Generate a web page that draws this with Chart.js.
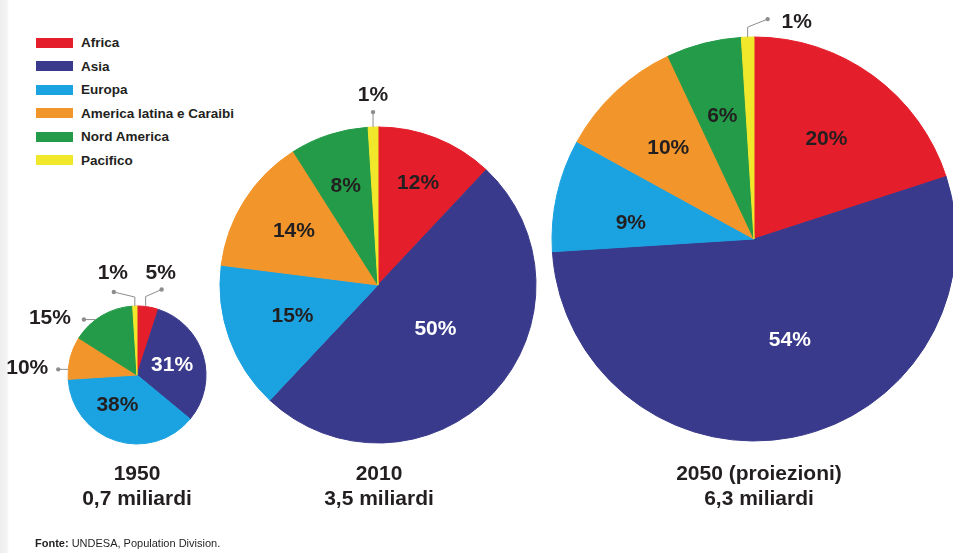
<!DOCTYPE html>
<html lang="it">
<head>
<meta charset="utf-8">
<title>Popolazione urbana per regione</title>
<script src="https://cdn.jsdelivr.net/npm/chart.js@4.4.1/dist/chart.umd.min.js"></script>
<style>
    html, body {
        margin: 0;
        padding: 0;
        width: 953px;
        height: 553px;
        overflow: hidden;
        background: #fff;
    }
    body {
        position: relative;
        font-family: "Liberation Sans", Arial, Helvetica, sans-serif;
        color: #231f20;
    }
    .edge {
        position: absolute;
        left: 0;
        top: 0;
        width: 9px;
        height: 100%;
        background: linear-gradient(to right, #eeeeee 0, #f3f3f3 7px, #fff 9px);
    }
    canvas {
        position: absolute;
        left: 0;
        top: 0;
        pointer-events: none;
    }
    #legend {
        position: absolute;
        left: 36px;
        top: 31px;
        margin: 0;
        padding: 0;
        list-style: none;
    }
    #legend li {
        height: 23.5px;
        display: flex;
        align-items: center;
        font-size: 13.5px;
        font-weight: bold;
    }
    #legend .swatch {
        display: inline-block;
        width: 37px;
        height: 10px;
        margin-right: 8px;
    }
    .caption {
        position: absolute;
        top: 460px;
        width: 240px;
        text-align: center;
        font-size: 21px;
        line-height: 25px;
        font-weight: bold;
    }
    .source {
        position: absolute;
        left: 35px;
        top: 537px;
        font-size: 11px;
    }
</style>
</head>
<body>
<div class="edge"></div>
<ul id="legend"></ul>
<canvas id="pie1950" width="953" height="553"></canvas>
<canvas id="pie2010" width="953" height="553"></canvas>
<canvas id="pie2050" width="953" height="553"></canvas>
<div class="source"><b>Fonte:</b> UNDESA, Population Division.</div>

<script>
// Regioni e quote (%) per anno
const regions = ['Africa', 'Asia', 'Europa', 'America latina e Caraibi', 'Nord America', 'Pacifico'];
const share1950 = [5, 31, 38, 10, 15, 1];
const share2010 = [12, 50, 15, 14, 8, 1];
const share2050 = [20, 54, 9, 10, 6, 1];
const years = ['1950', '2010', '2050 (proiezioni)'];
const totals = ['0,7 miliardi', '3,5 miliardi', '6,3 miliardi'];

const regionColors = ['#e41e2b', '#393a8b', '#1ba3e1', '#f2952b', '#239b48', '#f1e72b'];
const labelInk = ['#231f20', '#ffffff', '#231f20', '#231f20', '#231f20', '#231f20'];
const leaderColor = '#8d8d8d';

// Posizione delle etichette: r = frazione del raggio, at = punto lungo la fetta,
// leader = spezzata (offset dal bordo) per le etichette esterne
const pies = [
    {
        id: 'pie1950', values: share1950, cx: 137, cy: 375, r: 69, captionX: 137,
        places: {
            0: { at: 0.4, leader: [[0, -10], [16, -17]], text: [15, -33] },
            1: { r: 0.53 },
            2: { r: 0.52, at: 0.61 },
            3: { at: 0.23, leader: [[-10, 0]], text: [-41, -1] },
            4: { at: 0.39, leader: [[-12, 0]], text: [-46, -1] },
            5: { leader: [[0, -9], [-21, -14]], text: [-22, -33] }
        }
    },
    {
        id: 'pie2010', values: share2010, cx: 378, cy: 285, r: 158, captionX: 379,
        places: {
            0: { r: 0.69 },
            1: { r: 0.46, at: 0.47 },
            2: { r: 0.575 },
            3: { r: 0.63 },
            4: { r: 0.66 },
            5: { leader: [[0, -15]], text: [0, -32] }
        }
    },
    {
        id: 'pie2050', values: share2050, cx: 754, cy: 239, r: 202, captionX: 759,
        places: {
            0: { r: 0.61 },
            1: { r: 0.53, at: 0.455 },
            2: { r: 0.615, at: 0.34 },
            3: { r: 0.62 },
            4: { r: 0.63 },
            5: { leader: [[0, -10], [20, -18]], text: [49, -15] }
        }
    }
];

function makeSliceLabels(places) {
    return {
        id: 'sliceLabels',
        afterDatasetsDraw(chart) {
            const ctx = chart.ctx;
            const arcs = chart.getDatasetMeta(0).data;
            const values = chart.data.datasets[0].data;

            ctx.save();
            ctx.font = 'bold 21px "Liberation Sans", Arial, sans-serif';
            ctx.textAlign = 'center';
            ctx.textBaseline = 'middle';

            arcs.forEach((arc, i) => {
                const { x, y, startAngle, endAngle, outerRadius } =
                    arc.getProps(['x', 'y', 'startAngle', 'endAngle', 'outerRadius'], true);
                const place = places[i] || {};
                const at = place.at !== undefined ? place.at : 0.5;
                const angle = startAngle + (endAngle - startAngle) * at;
                const text = values[i] + '%';

                if (place.leader) {
                    // etichetta esterna con linea di richiamo
                    const rx = x + Math.cos(angle) * outerRadius;
                    const ry = y + Math.sin(angle) * outerRadius;
                    ctx.strokeStyle = leaderColor;
                    ctx.lineWidth = 1;
                    ctx.beginPath();
                    ctx.moveTo(rx, ry);
                    place.leader.forEach(([dx, dy]) => ctx.lineTo(rx + dx, ry + dy));
                    ctx.stroke();

                    const [ex, ey] = place.leader[place.leader.length - 1];
                    ctx.fillStyle = leaderColor;
                    ctx.beginPath();
                    ctx.arc(rx + ex, ry + ey, 2.2, 0, Math.PI * 2);
                    ctx.fill();

                    ctx.fillStyle = '#231f20';
                    ctx.fillText(text, rx + place.text[0], ry + place.text[1]);
                } else {
                    const dist = outerRadius * (place.r !== undefined ? place.r : 0.62);
                    ctx.fillStyle = labelInk[i];
                    ctx.fillText(text, x + Math.cos(angle) * dist, y + Math.sin(angle) * dist);
                }
            });
            ctx.restore();
        }
    };
}

function renderLegend() {
    const list = document.getElementById('legend');
    regions.forEach((name, i) => {
        const item = document.createElement('li');
        item.innerHTML = `<span class="swatch" style="background:${regionColors[i]}"></span>${name}`;
        list.appendChild(item);
    });
}

function renderPie(pie, index) {
    const canvas = document.getElementById(pie.id);
    const W = canvas.width;
    const H = canvas.height;

    new Chart(canvas.getContext('2d'), {
        type: 'pie',
        data: {
            labels: regions,
            datasets: [{
                data: pie.values,
                backgroundColor: regionColors,
                borderColor: regionColors,
                borderWidth: 1,
                hoverOffset: 0,
                radius: pie.r,
                clip: false
            }]
        },
        options: {
            responsive: false,
            animation: false,
            events: [],
            layout: {
                // area di disegno ridotta attorno al centro della torta
                padding: {
                    left: pie.cx - 10,
                    right: W - pie.cx - 10,
                    top: pie.cy - 10,
                    bottom: H - pie.cy - 10
                }
            },
            plugins: {
                legend: { display: false },
                tooltip: { enabled: false }
            }
        },
        plugins: [makeSliceLabels(pie.places)]
    });

    const caption = document.createElement('div');
    caption.className = 'caption';
    caption.style.left = (pie.captionX - 120) + 'px';
    caption.innerHTML = `${years[index]}<br>${totals[index]}`;
    document.body.appendChild(caption);
}

document.addEventListener('DOMContentLoaded', () => {
    renderLegend();
    pies.forEach(renderPie);
});
</script>
</body>
</html>
